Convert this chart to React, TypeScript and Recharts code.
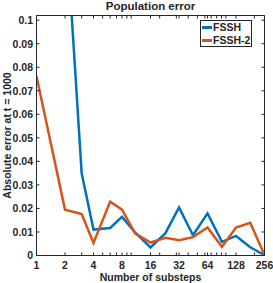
import React from "react";
import { LineChart, Line, XAxis, YAxis, Legend } from "recharts";

// substep counts (log2 axis) and absolute population error at t = 1000
const substeps = [1, 2, 3, 4, 6, 8, 11, 16, 23, 32, 45, 64, 91, 128, 181, 256];
const fsshError = [
  0.2, 0.147, 0.0349, 0.011, 0.0117, 0.0164, 0.0098, 0.0034, 0.0095, 0.0204,
  0.0086, 0.0179, 0.0058, 0.0083, 0.0035, 0.0002,
];
const fssh2Error = [
  0.0762, 0.0195, 0.0176, 0.0053, 0.0229, 0.0195, 0.0094, 0.0055, 0.0075,
  0.0065, 0.0078, 0.0119, 0.0037, 0.0119, 0.0139, 0.0002,
];

const xMajorTicks = [1, 2, 4, 8, 16, 32, 64, 128, 256];
const xMinorTicks = [3, 5, 6, 7, 9, 10, 20, 30, 40, 50, 60, 70, 80, 90, 100, 200];
const yTicks = [0, 0.01, 0.02, 0.03, 0.04, 0.05, 0.06, 0.07, 0.08, 0.09, 0.1];

const data = substeps.map((n, i) => ({
  n,
  fssh: fsshError[i],
  fssh2: fssh2Error[i],
}));

const allXTicks = [...xMajorTicks, ...xMinorTicks].sort((a, b) => a - b);

const AXIS = "#262626";
const FONT = "'Liberation Sans', Arial, Helvetica, sans-serif";
const BLUE = "#0072BD";
const ORANGE = "#D95319";
const TICK = 3;

const labelStyle = {
  fontFamily: FONT,
  fontWeight: 700,
  fontSize: 10.5,
  fill: AXIS,
};

function BottomTick(props: any) {
  const { x, y, payload } = props;
  const major = xMajorTicks.includes(payload.value);
  return (
    <g>
      <line x1={x} x2={x} y1={y} y2={y - TICK} stroke={AXIS} strokeWidth={1} />
      {major && (
        <text x={x} y={y + 13} textAnchor="middle" {...labelStyle}>
          {payload.value}
        </text>
      )}
    </g>
  );
}

function TopTick(props: any) {
  const { x, y } = props;
  return <line x1={x} x2={x} y1={y} y2={y + TICK} stroke={AXIS} strokeWidth={1} />;
}

function LeftTick(props: any) {
  const { x, y, payload } = props;
  return (
    <g>
      <line x1={x} x2={x + TICK} y1={y} y2={y} stroke={AXIS} strokeWidth={1} />
      <text x={x - 3.5} y={y + 3.8} textAnchor="end" {...labelStyle}>
        {String(payload.value)}
      </text>
    </g>
  );
}

function RightTick(props: any) {
  const { x, y } = props;
  return <line x1={x} x2={x - TICK} y1={y} y2={y} stroke={AXIS} strokeWidth={1} />;
}

function YLabel(props: any) {
  const vb = props.viewBox;
  const cy = vb.y + vb.height / 2;
  const cx = 10.5;
  return (
    <text
      x={cx}
      y={cy}
      transform={`rotate(-90 ${cx} ${cy})`}
      textAnchor="middle"
      {...labelStyle}>
      Absolute error at t = 1000
    </text>
  );
}

function LegendBox() {
  const rows = [
    { name: "FSSH", color: BLUE },
    { name: "FSSH-2", color: ORANGE },
  ];
  return (
    <div
      style={{
        boxSizing: "border-box",
        width: 52,
        height: 27,
        border: `1px solid ${AXIS}`,
        background: "#fff",
      }}>
      {rows.map((r) => (
        <div
          key={r.name}
          style={{ display: "flex", alignItems: "center", height: 13 }}>
          <span
            style={{
              display: "inline-block",
              width: 10,
              height: 2.5,
              marginLeft: 1,
              background: r.color,
            }}
          />
          <span
            style={{
              marginLeft: 1,
              fontFamily: FONT,
              fontWeight: 700,
              fontSize: 10.5,
              lineHeight: "13px",
              color: AXIS,
            }}>
            {r.name}
          </span>
        </div>
      ))}
    </div>
  );
}

export default function App() {
  return (
    <div style={{ position: "absolute", left: 0, top: 0, background: "#fff" }}>
      <LineChart
        width={273}
        height={283}
        data={data}
        margin={{ top: 14.5, right: 7.5, bottom: 26.5, left: 35.5 }}>
        <XAxis
          xAxisId="bottom"
          dataKey="n"
          type="number"
          scale="log"
          domain={[1, 256]}
          allowDataOverflow
          ticks={allXTicks}
          interval={0}
          height={1}
          tickSize={0}
          tickMargin={0}
          tick={<BottomTick />}
          axisLine={{ stroke: AXIS, strokeWidth: 1 }}
          label={{
            value: "Number of substeps",
            position: "bottom",
            offset: 17,
            style: labelStyle,
          }}
        />
        <XAxis
          xAxisId="top"
          orientation="top"
          dataKey="n"
          type="number"
          scale="log"
          domain={[1, 256]}
          allowDataOverflow
          ticks={allXTicks}
          interval={0}
          height={1}
          tickSize={0}
          tickMargin={0}
          tick={<TopTick />}
          axisLine={{ stroke: AXIS, strokeWidth: 1 }}
          label={{
            value: "Population error",
            position: "top",
            offset: 4.5,
            style: { ...labelStyle, fontSize: 11.5 },
          }}
        />
        <YAxis
          yAxisId="left"
          type="number"
          domain={[0, 0.102]}
          allowDataOverflow
          ticks={yTicks}
          interval={0}
          width={1}
          tickSize={0}
          tickMargin={0}
          tick={<LeftTick />}
          axisLine={{ stroke: AXIS, strokeWidth: 1 }}
          label={<YLabel />}
        />
        <YAxis
          yAxisId="right"
          orientation="right"
          type="number"
          domain={[0, 0.102]}
          allowDataOverflow
          ticks={yTicks}
          interval={0}
          width={1}
          tickSize={0}
          tickMargin={0}
          tick={<RightTick />}
          axisLine={{ stroke: AXIS, strokeWidth: 1 }}
        />
        <Line
          xAxisId="bottom"
          yAxisId="left"
          dataKey="fssh"
          name="FSSH"
          stroke={BLUE}
          strokeWidth={2.5}
          dot={false}
          isAnimationActive={false}
        />
        <Line
          xAxisId="bottom"
          yAxisId="left"
          dataKey="fssh2"
          name="FSSH-2"
          stroke={ORANGE}
          strokeWidth={2.5}
          dot={false}
          isAnimationActive={false}
        />
        <Legend
          layout="horizontal"
          verticalAlign="middle"
          align="center"
          wrapperStyle={{ left: 200, top: 20, width: 52, height: 27 }}
          content={() => <LegendBox />}
        />
      </LineChart>
    </div>
  );
}
